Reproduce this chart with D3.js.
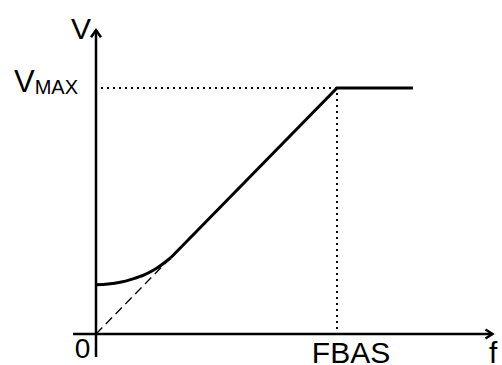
<!DOCTYPE html>
<html>
<head>
<meta charset="utf-8">
<script src="https://cdn.jsdelivr.net/npm/d3@7"></script>
<style>
html,body{margin:0;padding:0;background:#fff;}
svg{display:block;}
text{font-family:"Liberation Sans",Arial,sans-serif;fill:#000;}
</style>
</head>
<body>
<svg id="chart" width="502" height="365"></svg>
<script>
// V/f curve: frequency (% of FBAS) vs voltage (% of VMAX)
const boostF = [0, 5, 10, 15, 20, 25, 31];
const boostV = [20, 20.3, 21.0, 22.3, 24.0, 26.6, 31];
const rampF = [31, 100, 131.5];
const rampV = [31, 100, 100];
const dashF = [0, 31];
const dashV = [0, 31];
const fBase = 100, vMax = 100;
const xAxisRange = [-9.5, 164.5];
const yAxisRange = [-9.3, 123.5];
const xLabels = [{v: 0, t: "0"}, {v: fBase, t: "FBAS"}];
const axisNames = {x: "f", y: "V"};

const svg = d3.select("#chart");
const x = d3.scaleLinear().domain([0, 100]).range([96, 337]);
const y = d3.scaleLinear().domain([0, 100]).range([334, 88]);

const line = d3.line().x(d => x(d[0])).y(d => y(d[1]));
const smooth = d3.line().x(d => x(d[0])).y(d => y(d[1])).curve(d3.curveMonotoneX);

// guides
svg.append("path")
  .attr("d", line([[0, vMax], [fBase, vMax]]))
  .attr("fill", "none").attr("stroke", "#000")
  .attr("stroke-width", 2).attr("stroke-dasharray", "2,4")
  .attr("transform", "translate(5,0)");
svg.append("path")
  .attr("d", line([[fBase, vMax], [fBase, 0]]))
  .attr("fill", "none").attr("stroke", "#000")
  .attr("stroke-width", 2).attr("stroke-dasharray", "2,4")
  .attr("transform", "translate(0,5)");

// dashed linear line
svg.append("path")
  .attr("d", line(dashF.map((f, i) => [f, dashV[i]])))
  .attr("fill", "none").attr("stroke", "#000")
  .attr("stroke-width", 1.3).attr("stroke-dasharray", "9,5");

// axes
svg.append("path")
  .attr("d", line([[xAxisRange[0], 0], [xAxisRange[1], 0]]))
  .attr("stroke", "#000").attr("stroke-width", 2.5);
svg.append("path")
  .attr("d", line([[0, yAxisRange[0]], [0, yAxisRange[1]]]))
  .attr("stroke", "#000").attr("stroke-width", 2.5);

// arrowheads
const xt = x(xAxisRange[1]), yt = y(0);
svg.append("path")
  .attr("d", `M${xt - 7},${yt - 4.5}L${xt},${yt}L${xt - 7},${yt + 4.5}`)
  .attr("fill", "none").attr("stroke", "#000").attr("stroke-width", 2.5);
const ax = x(0), ay = y(yAxisRange[1]);
svg.append("path")
  .attr("d", `M${ax - 5},${ay + 7}L${ax},${ay}L${ax + 5},${ay + 7}`)
  .attr("fill", "none").attr("stroke", "#000").attr("stroke-width", 2.5);

// main curve: boost (smooth) + linear ramp + flat
svg.append("path")
  .attr("d", smooth(boostF.map((f, i) => [f, boostV[i]])))
  .attr("fill", "none").attr("stroke", "#000").attr("stroke-width", 3);
svg.append("path")
  .attr("d", line(rampF.map((f, i) => [f, rampV[i]])))
  .attr("fill", "none").attr("stroke", "#000")
  .attr("stroke-width", 3).attr("stroke-linejoin", "miter");

// labels
svg.append("text").attr("x", 71).attr("y", 38.5)
  .attr("font-size", 30).text(axisNames.y);
svg.append("text").attr("x", 489).attr("y", 363)
  .attr("font-size", 30).text(axisNames.x);
xLabels.forEach(d => {
  svg.append("text").attr("x", d.v === 0 ? x(d.v) - 13.5 : x(d.v) + 14)
    .attr("y", d.v === 0 ? 358 : 363)
    .attr("text-anchor", "middle")
    .attr("font-size", d.v === 0 ? 28 : 30)
    .text(d.t);
});
const vm = svg.append("text").attr("x", 14).attr("y", y(vMax) + 3.5).attr("font-size", 31);
vm.append("tspan").text("V");
vm.append("tspan").attr("font-size", 20).attr("dy", 2).text("MAX");
</script>
</body>
</html>
